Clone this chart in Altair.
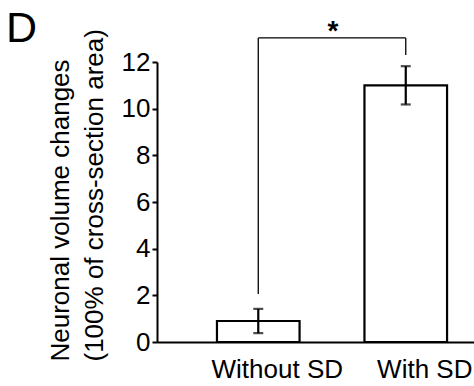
import altair as alt
import pandas as pd

categories = ["Without SD", "With SD"]
means = [0.9, 11.0]
sems = [0.52, 0.82]

# significance bracket (y values)
bracket_y = 13.03
bracket_low = [2.06, 12.3]
star_label = "*"

FONT = "Liberation Sans"

df = pd.DataFrame({
    "cat": categories,
    "mean": means,
    "lo": [m - s for m, s in zip(means, sems)],
    "hi": [m + s for m, s in zip(means, sems)],
})
br = pd.DataFrame({"cat": categories, "low": bracket_low, "top": [bracket_y] * 2})
br_h = pd.DataFrame({"a": [categories[0]], "b": [categories[1]], "y": [bracket_y], "t": [star_label]})

xscale = alt.Scale(domain=categories, paddingInner=0.44, paddingOuter=0.2946, align=0.69)
yscale = alt.Scale(domain=[0, 12], nice=False)

xax = alt.Axis(title=None, ticks=False, labelFontSize=26, labelFont=FONT, labelColor="black",
               labelPadding=14, labelOffset=19, domainColor="black", domainWidth=2, labelAngle=0)
yax = alt.Axis(values=[0, 2, 4, 6, 8, 10, 12], grid=False, labelFontSize=26, labelFont=FONT,
               labelColor="black", tickSize=5, tickWidth=2, tickColor="black",
               domainColor="black", domainWidth=2, labelPadding=2,
               title=["Neuronal volume changes", "(100% of cross-section area)"],
               titleFont=FONT, titleFontSize=26, titleFontWeight="normal", titleColor="black",
               titleAngle=270, titleAlign="left", titleBaseline="alphabetic",
               titleX=-89, titleY=299, titleLineHeight=34)

bars = alt.Chart(df).mark_bar(fill="white", stroke="black", strokeWidth=2.2).encode(
    x=alt.X("cat:N", scale=xscale, axis=xax, sort=categories),
    y=alt.Y("mean:Q", scale=yscale, axis=yax),
)
err = alt.Chart(df).mark_rule(color="black", strokeWidth=2.2).encode(
    x=alt.X("cat:N", scale=xscale, sort=categories),
    y=alt.Y("lo:Q", scale=yscale),
    y2="hi:Q",
)
cap_lo = alt.Chart(df).mark_tick(color="black", thickness=2.2, size=10, orient="horizontal").encode(
    x=alt.X("cat:N", scale=xscale, sort=categories),
    y=alt.Y("lo:Q", scale=yscale),
)
cap_hi = alt.Chart(df).mark_tick(color="black", thickness=2.2, size=10, orient="horizontal").encode(
    x=alt.X("cat:N", scale=xscale, sort=categories),
    y=alt.Y("hi:Q", scale=yscale),
)
br_v = alt.Chart(br).mark_rule(color="black", strokeWidth=1.3).encode(
    x=alt.X("cat:N", scale=xscale, sort=categories),
    y=alt.Y("low:Q", scale=yscale),
    y2="top:Q",
)
br_line = alt.Chart(br_h).mark_rule(color="black", strokeWidth=1.3).encode(
    x=alt.X("a:N", scale=xscale, sort=categories),
    x2="b:N",
    y=alt.Y("y:Q", scale=yscale),
)
star = alt.Chart(br_h).mark_text(font=FONT, fontSize=28, fontWeight="bold", baseline="bottom",
                                  dx=0, dy=8, color="black").encode(
    x=alt.value(176),
    y=alt.Y("y:Q", scale=yscale),
    text="t:N",
)

chart = alt.layer(bars, err, cap_lo, cap_hi, br_v, br_line, star).properties(
    width=317, height=280,
    background="white",
    title=alt.TitleParams("D", fontSize=43, font=FONT, fontWeight="normal", color="black",
                          anchor="start", frame="group", dx=-151, dy=33, offset=0),
    autosize=alt.AutoSizeParams(type="none"),
    padding={"left": 157, "top": 62, "right": 0, "bottom": 44},
).configure_view(strokeWidth=0, stroke="transparent")

chart.save("out.html", embed_options={"renderer": "svg", "actions": False})
